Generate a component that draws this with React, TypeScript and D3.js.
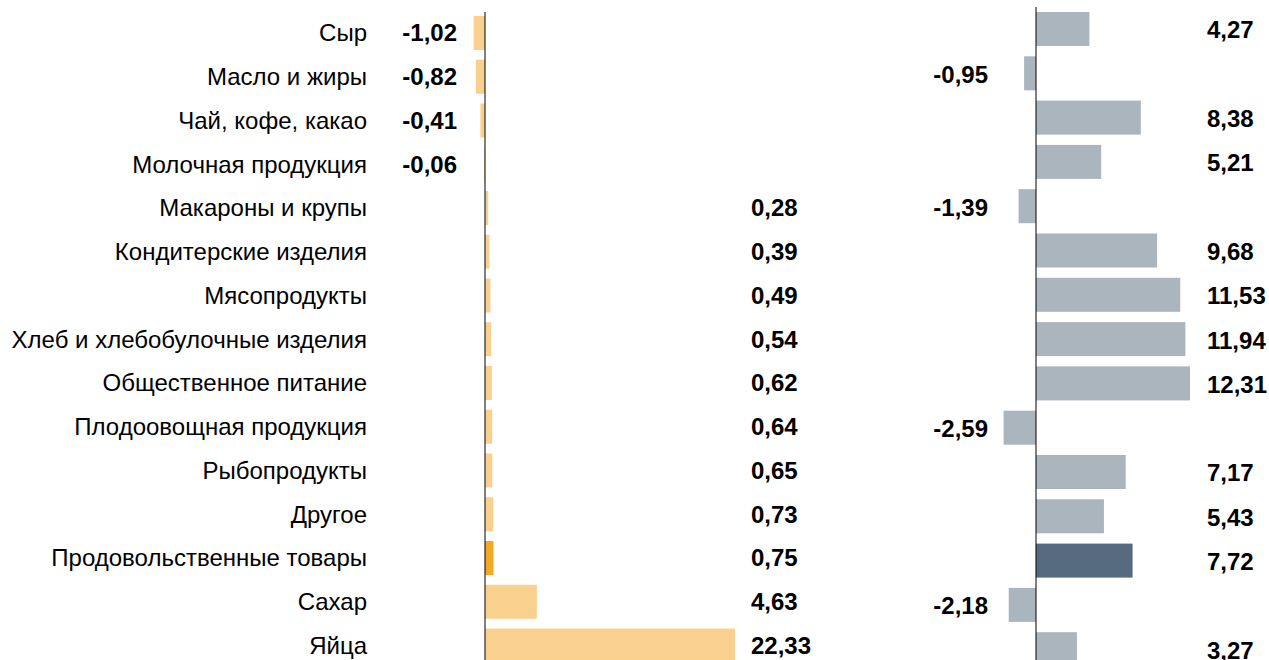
import React from "react";
import * as d3 from "d3";

const categories = [
  "Сыр",
  "Масло и жиры",
  "Чай, кофе, какао",
  "Молочная продукция",
  "Макароны и крупы",
  "Кондитерские изделия",
  "Мясопродукты",
  "Хлеб и хлебобулочные изделия",
  "Общественное питание",
  "Плодоовощная продукция",
  "Рыбопродукты",
  "Другое",
  "Продовольственные товары",
  "Сахар",
  "Яйца",
];
const leftValues = [-1.02, -0.82, -0.41, -0.06, 0.28, 0.39, 0.49, 0.54, 0.62, 0.64, 0.65, 0.73, 0.75, 4.63, 22.33];
const rightValues = [4.27, -0.95, 8.38, 5.21, -1.39, 9.68, 11.53, 11.94, 12.31, -2.59, 7.17, 5.43, 7.72, -2.18, 3.27];
const highlight = "Продовольственные товары";

const W = 1269;
const H = 660;
const FONT = "Liberation Sans, Arial, Helvetica, sans-serif";

const fmt = (v: number) => v.toFixed(2).replace(".", ",");

export default function App() {
  const xL = d3.scaleLinear().domain([0, 22.33]).range([485, 735]);
  const xR = d3.scaleLinear().domain([0, 12.31]).range([1036, 1190]);
  const pL = (43.75 - 34) / 43.75;
  const yL = d3.scaleBand<string>().domain(categories).range([16, 16 + 43.75 * (15 - pL)]).paddingInner(pL).paddingOuter(0);
  const pR = (44.3 - 34) / 44.3;
  const yR = d3.scaleBand<string>().domain(categories).range([12, 12 + 44.3 * (15 - pR)]).paddingInner(pR).paddingOuter(0);

  return (
    <svg width={W} height={H} style={{ position: "absolute", left: 0, top: 0, background: "#fff" }} fontFamily={FONT}>
      {categories.map((c, i) => (
        <text key={"c" + i} x={367} y={(yL(c) as number) + yL.bandwidth() / 2} dy="0.35em" textAnchor="end" fontSize={24} fill="#000">
          {c}
        </text>
      ))}
      {categories.map((c, i) => {
        const v = leftValues[i];
        const y = yL(c) as number;
        return (
          <g key={"l" + i}>
            <rect x={Math.min(xL(0), xL(v))} y={y} width={Math.abs(xL(v) - xL(0))} height={yL.bandwidth()} fill={c === highlight ? "#f7a823" : "#fad08e"} />
            <text x={v < 0 ? 457 : 751} y={y + yL.bandwidth() / 2} dy="0.35em" textAnchor={v < 0 ? "end" : "start"} fontSize={24} fontWeight="bold" fill="#000">
              {fmt(v)}
            </text>
          </g>
        );
      })}
      <line x1={xL(0)} x2={xL(0)} y1={12} y2={H} stroke="#000" strokeWidth={1} />
      {categories.map((c, i) => {
        const v = rightValues[i];
        const y = yR(c) as number;
        return (
          <g key={"r" + i}>
            <rect x={Math.min(xR(0), xR(v))} y={y} width={Math.abs(xR(v) - xR(0))} height={yR.bandwidth()} fill={c === highlight ? "#576b80" : "#aab5be"} />
            <text x={v < 0 ? 988 : 1207} y={y + yR.bandwidth() / 2 + 1} dy="0.35em" textAnchor={v < 0 ? "end" : "start"} fontSize={24} fontWeight="bold" fill="#000">
              {fmt(v)}
            </text>
          </g>
        );
      })}
      <line x1={xR(0)} x2={xR(0)} y1={7} y2={H} stroke="#000" strokeWidth={1} />
    </svg>
  );
}
